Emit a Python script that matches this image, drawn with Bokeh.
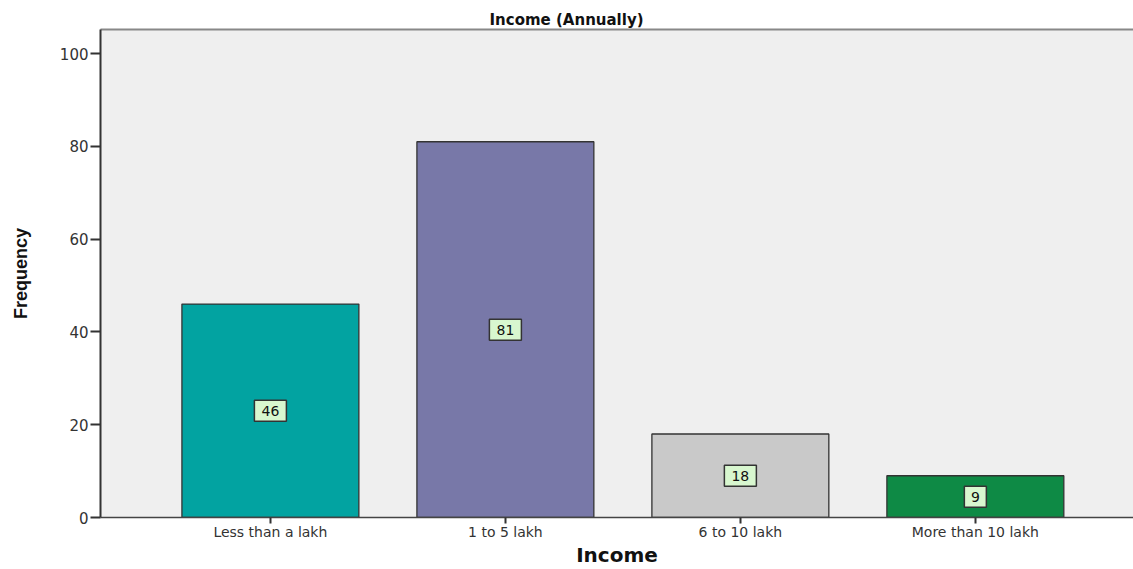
from bokeh.plotting import figure
from bokeh.models import ColumnDataSource, Range1d, LinearAxis, FixedTicker, Title
from bokeh.embed import file_html
from bokeh.resources import INLINE

categories = ["Less than a lakh", "1 to 5 lakh", "6 to 10 lakh", "More than 10 lakh"]
frequency = [46, 81, 18, 9]
bar_colors = ["#02a3a1", "#7878a8", "#c9c9c9", "#0e8a45"]
y_ticks = [0, 20, 40, 60, 80, 100]

positions = list(range(1, len(categories) + 1))
labels_txt = [str(v) for v in frequency]
src = ColumnDataSource(dict(
    x=positions,
    top=frequency,
    mid=[v / 2 for v in frequency],
    label=labels_txt,
    box_w=[12 + 10 * len(t) for t in labels_txt],
    color=bar_colors,
))

FONT = "DejaVu Sans"

p = figure(width=1133, height=569, output_backend="svg", toolbar_location=None,
           x_range=Range1d(0.277, 4.673), y_range=Range1d(0, 105.2),
           min_border_left=100, min_border_right=0, min_border_top=29, min_border_bottom=51,
           background_fill_color="#efefef", border_fill_color="white")
p.outline_line_color = None

p.vbar(x="x", top="top", width=0.753, bottom=0, fill_color="color",
       line_color="#333333", line_width=1.3, source=src)

p.rect(x="x", y="mid", width="box_w", height=21, width_units="screen", height_units="screen",
       fill_color="#d8f7cf", line_color="#333333", line_width=1.5, source=src)
p.text(x="x", y="mid", text="label", source=src, text_align="center",
       text_baseline="middle", text_font_size="14px", text_font={"value": FONT},
       text_color="#111111")

p.xgrid.visible = False
p.ygrid.visible = False

# x axis
xa = p.xaxis[0]
xa.ticker = FixedTicker(ticks=positions)
xa.major_label_overrides = {pos: cat for pos, cat in zip(positions, categories)}
xa.minor_tick_line_color = None
xa.major_tick_out = 6
xa.major_tick_in = 0
xa.major_tick_line_color = "#333333"
xa.major_tick_line_width = 2
xa.axis_line_color = "#444444"
xa.axis_line_width = 1.5
xa.major_label_text_font = FONT
xa.major_label_text_font_size = "14px"
xa.major_label_text_color = "#333333"
xa.major_label_standoff = 0
xa.axis_label = "Income"
xa.axis_label_text_font = FONT
xa.axis_label_text_font_style = "bold"
xa.axis_label_text_font_size = "20px"
xa.axis_label_text_color = "#111111"
xa.axis_label_standoff = 0

# y axis
ya = p.yaxis[0]
ya.ticker = FixedTicker(ticks=y_ticks)
ya.minor_tick_line_color = None
ya.major_tick_out = 10
ya.major_tick_in = 0
ya.major_tick_line_color = "#333333"
ya.major_tick_line_width = 2
ya.axis_line_color = "#333333"
ya.axis_line_width = 2
ya.major_label_text_font = FONT
ya.major_label_text_font_size = "15px"
ya.major_label_text_color = "#333333"
ya.major_label_standoff = 2
ya.axis_label = "Frequency"
ya.axis_label_text_font = "Liberation Sans"
ya.axis_label_text_font_style = "bold"
ya.axis_label_text_font_size = "18px"
ya.axis_label_text_color = "#111111"
ya.axis_label_standoff = 26

# top border line
top_axis = LinearAxis(ticker=FixedTicker(ticks=[]), axis_line_color="#888888",
                      axis_line_width=2, major_tick_line_color=None,
                      minor_tick_line_color=None, major_label_text_font_size="0px")
p.add_layout(top_axis, "above")

p.add_layout(Title(text="Income (Annually)", align="left", offset=389,
                   text_font=FONT, text_font_style="bold", text_font_size="15px",
                   text_color="#111111", standoff=2), "above")

open("out.html", "w").write(file_html(p, INLINE))
